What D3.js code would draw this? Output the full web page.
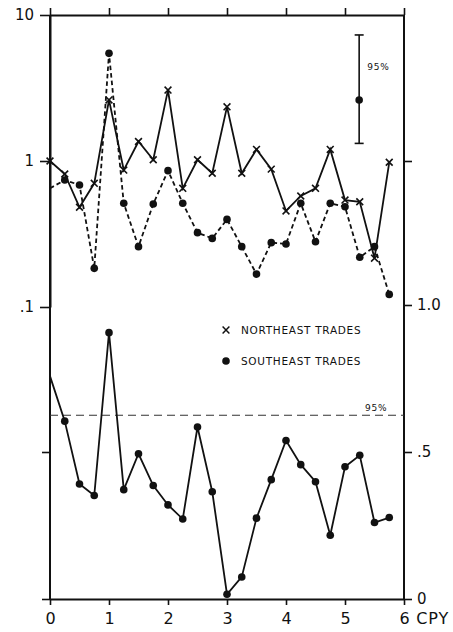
<!DOCTYPE html>
<html>
<head>
<meta charset="utf-8">
<script src="https://cdn.jsdelivr.net/npm/d3@7"></script>
<style>
  body { margin: 0; background: #fff; }
  text { font-family: "DejaVu Sans", sans-serif; fill: #111; }
  .domain, .tick line { stroke: #111; }
</style>
</head>
<body>
<div id="chart"></div>
<script>
// frequencies in cycles per year
const freq = [0, 0.25, 0.5, 0.75, 1, 1.25, 1.5, 1.75, 2, 2.25, 2.5, 2.75,
              3, 3.25, 3.5, 3.75, 4, 4.25, 4.5, 4.75, 5, 5.25, 5.5, 5.75];

// spectra (log scale, upper panel)
const northeast = [1.0, 0.815, 0.482, 0.703, 2.62, 0.867, 1.36, 1.02, 3.06, 0.65, 1.02, 0.824,
                   2.35, 0.824, 1.20, 0.88, 0.455, 0.576, 0.65, 1.20, 0.54, 0.526, 0.216, 0.98];
const southeast = [0.65, 0.741, 0.685, 0.184, 5.46, 0.513, 0.259, 0.507, 0.859, 0.513, 0.323, 0.295,
                   0.398, 0.259, 0.168, 0.276, 0.270, 0.513, 0.28, 0.513, 0.486, 0.219, 0.259, 0.122];

// coherence (linear scale, lower panel)
const coherence = [0.758, 0.605, 0.391, 0.352, 0.906, 0.372, 0.494, 0.386, 0.320, 0.272, 0.585, 0.365,
                   0.016, 0.075, 0.275, 0.406, 0.539, 0.457, 0.399, 0.217, 0.450, 0.489, 0.260, 0.277];

// 95% confidence bar for spectra, and 95% level for coherence
const confFreq = 5.24;
const confBar = [1.32, 2.62, 7.3];
const coherence95 = 0.625;

const xTicks = [0, 1, 2, 3, 4, 5, 6];
const logTicks = [0.1, 1, 10];
const logLabels = [".1", "1", "10"];
const linTicks = [0, 0.5, 1];
const linLabels = ["0", ".5", "1.0"];

const width = 453, height = 632;
const plotLeft = 50, plotRight = 404, plotTop = 15, plotBottom = 599;

const svg = d3.select("#chart").append("svg")
    .attr("width", width)
    .attr("height", height);

const x = d3.scaleLinear().domain([0, 6]).range([plotLeft, plotRight]);
const yLog = d3.scaleLog().domain([0.1, 10]).range([307, plotTop]);
const yLin = d3.scaleLinear().domain([0, 1]).range([plotBottom, 305]);

// frame and axes
function styleAxis(g) {
    g.selectAll(".domain").attr("stroke-width", 2);
    g.selectAll(".tick line").attr("stroke-width", 1.6);
}

svg.append("g")
    .attr("transform", `translate(0,${plotTop})`)
    .call(d3.axisTop(x).tickValues(xTicks).tickSize(7).tickSizeOuter(0).tickFormat(""))
    .call(styleAxis);

svg.append("g")
    .attr("transform", `translate(0,${plotBottom})`)
    .call(d3.axisBottom(x).tickValues(xTicks).tickSize(6).tickSizeOuter(0).tickPadding(8)
        .tickFormat(d => d === 6 ? "6 CPY" : d))
    .call(styleAxis)
    .selectAll("text")
    .attr("font-size", 16)
    .attr("letter-spacing", d => d === 6 ? 0.8 : 0)
    .attr("text-anchor", d => d === 6 ? "start" : "middle")
    .attr("dx", d => d === 6 ? -5 : 0);

// left: log ticks (labelled) then linear ticks (unlabelled)
svg.append("g")
    .attr("transform", `translate(${plotLeft},0)`)
    .call(d3.axisLeft(yLog).tickValues(logTicks).tickSize(10).tickSizeOuter(0).tickPadding(6)
        .tickFormat((d, i) => logLabels[i]))
    .call(styleAxis)
    .selectAll("text").attr("font-size", 15);

svg.append("g")
    .attr("transform", `translate(${plotLeft},0)`)
    .call(d3.axisLeft(yLin).tickValues([0, 0.5]).tickSize(8).tickSizeOuter(0).tickFormat(""))
    .call(g => g.select(".domain").remove())
    .call(styleAxis);

svg.append("line")
    .attr("x1", plotLeft).attr("x2", plotLeft)
    .attr("y1", plotTop).attr("y2", plotBottom)
    .attr("stroke", "#111").attr("stroke-width", 2);

// right: log ticks (unlabelled) then linear ticks (labelled)
svg.append("g")
    .attr("transform", `translate(${plotRight},0)`)
    .call(d3.axisRight(yLog).tickValues([1]).tickSize(8).tickSizeOuter(0).tickFormat(""))
    .call(g => g.select(".domain").remove())
    .call(styleAxis);

svg.append("g")
    .attr("transform", `translate(${plotRight},0)`)
    .call(d3.axisRight(yLin).tickValues(linTicks).tickSize(8).tickSizeOuter(0).tickPadding(5)
        .tickFormat((d, i) => linLabels[i]))
    .call(g => g.select(".domain").remove())
    .call(styleAxis)
    .selectAll("text").attr("font-size", 15);

svg.append("line")
    .attr("x1", plotRight).attr("x2", plotRight)
    .attr("y1", plotTop).attr("y2", plotBottom)
    .attr("stroke", "#111").attr("stroke-width", 2);

// 95% coherence level
svg.append("line")
    .attr("x1", plotLeft).attr("x2", plotRight)
    .attr("y1", yLin(coherence95)).attr("y2", yLin(coherence95))
    .attr("stroke", "#333").attr("stroke-width", 1.2)
    .attr("stroke-dasharray", "8,5");

svg.append("text")
    .attr("x", 365).attr("y", yLin(coherence95) - 4)
    .attr("font-size", 9).attr("letter-spacing", 0.8)
    .text("95%");

// spectra
const logLine = d3.line().x((d, i) => x(freq[i])).y(d => yLog(d));
const linLine = d3.line().x((d, i) => x(freq[i])).y(d => yLin(d));

svg.append("path")
    .datum(northeast)
    .attr("d", logLine)
    .attr("fill", "none").attr("stroke", "#111").attr("stroke-width", 1.8);

svg.append("path")
    .datum(southeast)
    .attr("d", logLine)
    .attr("fill", "none").attr("stroke", "#111").attr("stroke-width", 1.8)
    .attr("stroke-dasharray", "4.5,3");

svg.append("path")
    .datum(coherence)
    .attr("d", linLine)
    .attr("fill", "none").attr("stroke", "#111").attr("stroke-width", 1.8);

// markers
const cross = d3.symbol().type(d3.symbolX).size(32);

svg.append("g").selectAll("path")
    .data(northeast)
    .join("path")
    .attr("d", cross)
    .attr("transform", (d, i) => `translate(${x(freq[i])},${yLog(d)})`)
    .attr("fill", "none").attr("stroke", "#111").attr("stroke-width", 1.6);

svg.append("g").selectAll("circle")
    .data(southeast.slice(1))
    .join("circle")
    .attr("cx", (d, i) => x(freq[i + 1]))
    .attr("cy", d => yLog(d))
    .attr("r", 3.8)
    .attr("fill", "#111");

svg.append("g").selectAll("circle")
    .data(coherence.slice(1))
    .join("circle")
    .attr("cx", (d, i) => x(freq[i + 1]))
    .attr("cy", d => yLin(d))
    .attr("r", 3.8)
    .attr("fill", "#111");

// 95% confidence bar
const cb = svg.append("g").attr("stroke", "#111").attr("stroke-width", 1.6);
cb.append("line")
    .attr("x1", x(confFreq)).attr("x2", x(confFreq))
    .attr("y1", yLog(confBar[0])).attr("y2", yLog(confBar[2]));
[confBar[0], confBar[2]].forEach(v => {
    cb.append("line")
        .attr("x1", x(confFreq) - 4.5).attr("x2", x(confFreq) + 4.5)
        .attr("y1", yLog(v)).attr("y2", yLog(v));
});
svg.append("circle")
    .attr("cx", x(confFreq)).attr("cy", yLog(confBar[1]))
    .attr("r", 3.8).attr("fill", "#111");
svg.append("text")
    .attr("x", x(confFreq) + 8).attr("y", 70)
    .attr("font-size", 9).attr("letter-spacing", 0.8)
    .text("95%");

// legend
const legend = svg.append("g").attr("transform", "translate(226,330)");
legend.append("path")
    .attr("d", cross)
    .attr("fill", "none").attr("stroke", "#111").attr("stroke-width", 1.5);
legend.append("text")
    .attr("x", 15).attr("y", 4)
    .attr("font-size", 10.5).attr("letter-spacing", 0.7)
    .text("NORTHEAST  TRADES");
legend.append("circle")
    .attr("cx", 0).attr("cy", 31).attr("r", 3.8).attr("fill", "#111");
legend.append("text")
    .attr("x", 15).attr("y", 35)
    .attr("font-size", 10.5).attr("letter-spacing", 0.7)
    .text("SOUTHEAST  TRADES");
</script>
</body>
</html>
